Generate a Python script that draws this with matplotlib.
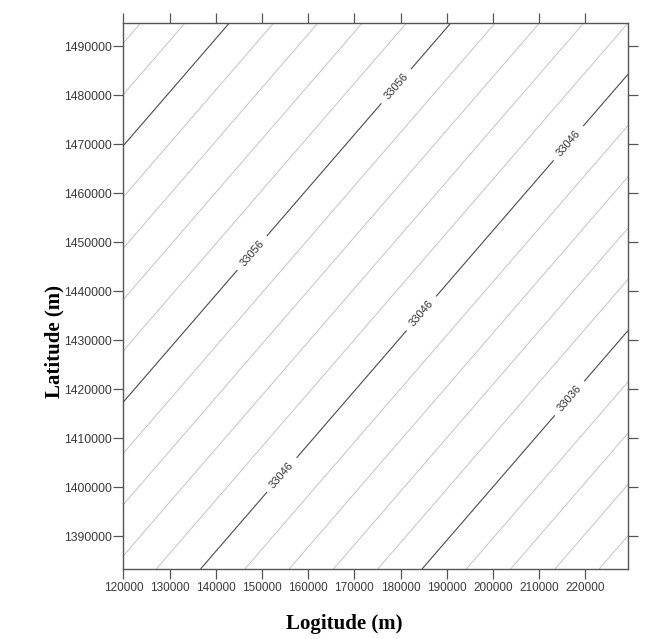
import numpy as np
import matplotlib
matplotlib.use("Agg")
import matplotlib.pyplot as plt

# ---- data ----
x_grid = [119900, 229240]            # longitude (m) at domain edges
y_grid = [1383270, 1494700]          # latitude (m) at domain edges
z_corners = [[33049.5, 33026.7],     # value at (x0,y0), (x1,y0)
             [33070.8, 33048.0]]     # value at (x0,y1), (x1,y1)
minor_levels = [33028, 33030, 33032, 33034, 33038, 33040, 33042, 33044,
                33048, 33050, 33052, 33054, 33058, 33060, 33062, 33064,
                33068, 33070]
major_levels = [33036, 33046, 33056, 33066]
x_ticks = [120000, 130000, 140000, 150000, 160000, 170000, 180000,
           190000, 200000, 210000, 220000]
y_ticks = [1390000, 1400000, 1410000, 1420000, 1430000, 1440000,
           1450000, 1460000, 1470000, 1480000, 1490000]

# label placement (layout)
label_spots = [(147860, 1447760), (179240, 1481630),
               (154350, 1402450), (184130, 1435710), (216040, 1470410),
               (216260, 1418370)]

fig = plt.figure(figsize=(6.53, 6.39), dpi=100)
ax = fig.add_axes([0.1884, 0.1095, 0.7733, 0.8545])

X, Y = np.meshgrid(x_grid, y_grid)
Z = np.array(z_corners)

ax.contour(X, Y, Z, levels=minor_levels, colors="#c4c4c4", linewidths=0.7)
cs = ax.contour(X, Y, Z, levels=major_levels, colors="#4a4a4a", linewidths=0.8)
lbls = ax.clabel(cs, fmt="%d", fontsize=8, colors="#333333", inline=True,
                 inline_spacing=5, manual=label_spots)
for t in lbls:
    t.set_family("Liberation Sans")

ax.set_xlim(x_grid[0], x_grid[1])
ax.set_ylim(y_grid[0], y_grid[1])
ax.set_xticks(x_ticks)
ax.set_yticks(y_ticks)
ax.set_xticklabels([str(v) for v in x_ticks])
ax.set_yticklabels([str(v) for v in y_ticks])

ax.tick_params(axis="both", which="both", direction="out", length=7.5, width=0.9,
               color="#555555", labelcolor="#3a3a3a",
               top=True, right=True, labeltop=False, labelright=False)
ax.tick_params(axis="x", labelsize=8.5, pad=2)
ax.tick_params(axis="y", labelsize=8.7, pad=0.5)
for lab in ax.get_xticklabels() + ax.get_yticklabels():
    lab.set_family("Liberation Sans")
for s in ax.spines.values():
    s.set_color("#555555")
    s.set_linewidth(1.0)

ax.set_xlabel("Logitude (m)", family="Liberation Serif", fontweight="bold",
              fontsize=15)
ax.set_ylabel("Latitude (m)", family="Liberation Serif", fontweight="bold",
              fontsize=15)
ax.xaxis.set_label_coords(0.4376, -0.0824)
ax.yaxis.set_label_coords(-0.115, 0.4158)

fig.savefig("out.png", dpi=100)
